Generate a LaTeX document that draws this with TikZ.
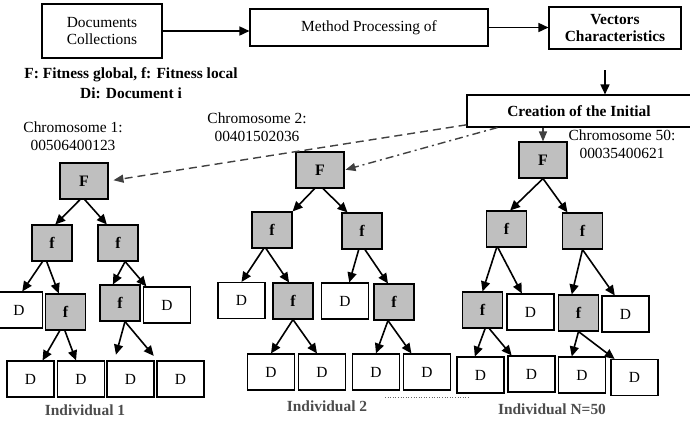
\documentclass[tikz,border=0pt]{standalone}
\usepackage{fontspec}
\setmainfont{Liberation Serif}
\usetikzlibrary{calc, positioning}
\usetikzlibrary{arrows.meta}

\begin{document}
\begin{tikzpicture}[x=1bp,y=-1bp,
    every node/.style={font=\fontsize{15.5}{18}\selectfont},
    topbox/.style={draw,line width=1.1bp,fill=white,align=center,inner sep=0pt},
    fitbox/.style={draw,line width=1.1bp,fill=boxgray,minimum height=36bp,
        inner sep=0pt,font=\fontsize{16}{18}\selectfont\bfseries},
    docbox/.style={draw,line width=1.1bp,fill=white,minimum width=47bp,
        minimum height=36bp,inner sep=0pt},
    tree/.style={line width=1.6bp,-{Triangle[length=10bp,width=9bp]}},
    link/.style={line width=1.4bp,draw=black!75,-{Triangle[length=10bp,width=8bp]}},
    tag/.style={align=center,inner sep=0pt},
    indiv/.style={text=black!70,font=\fontsize{15.5}{18}\selectfont\bfseries}]
\colorlet{boxgray}{black!25}
\useasboundingbox (0,0) rectangle (690,420);

% top chain
\node[topbox,minimum width=120bp,minimum height=54bp] (docs) at (102,31)
    {Documents\\Collections};
\node[topbox,minimum width=238bp,minimum height=37bp] (method) at (369,27.5)
    {Method Processing of};
\node[topbox,minimum width=132bp,minimum height=42bp,font=\fontsize{15.5}{18}\selectfont\bfseries]
    (vectors) at (615,28) {Vectors\\Characteristics};
\node[topbox,minimum width=224bp,minimum height=32bp,font=\fontsize{15.5}{18}\selectfont\bfseries]
    (creation) at (579,111) {Creation of the Initial};
\coordinate (vc) at (605,70);

\draw[tree] (docs.east) -- (docs.east -| method.west);
\draw[tree] (method.east) -- (method.east -| vectors.west);
\draw[tree] (vc) -- (vc |- creation.north);

% legend and chromosomes
\node[tag,font=\fontsize{15.5}{20}\selectfont\bfseries] (legend) at (131,83)
    {F: Fitness global, f: Fitness local\\Di: Document i};
\node[tag] (chromA) at (73,136) {Chromosome 1:\\00506400123};
\node[tag] (chromB) at (257,127) {Chromosome 2:\\00401502036};
\node[tag] (chromC) at (622,144) {Chromosome 50:\\00035400621};

% fitness nodes
\foreach \n/\lab/\w/\x/\y in {F1/F/48/84/181, f1a/f/40/52/243, f1b/f/40/118/243,
    f1c/f/40/65.5/312, f1d/f/40/120/303,
    F2/F/48/320/170, f2a/f/40/272/230, f2b/f/40/362/231,
    f2c/f/40/293/301, f2d/f/40/394/302,
    F50/F/48/543/160, f50a/f/40/506.5/229, f50b/f/40/582.5/231,
    f50c/f/40/482.5/310, f50d/f/40/578.5/313} {
    \node[fitbox,minimum width=\w bp] (\n) at (\x,\y) {\lab};
}

% document leaves
\foreach \n/\x/\y in {d1a/19/310, d1b/167/305, d1c/30.5/379, d1d/81/379,
    d1e/130.5/379, d1f/180.5/379,
    d2a/241.5/300.5, d2b/345/301, d2c/271/372, d2d/322/372,
    d2e/376/372, d2f/427/372,
    d50a/530.5/312, d50b/625.5/314, d50c/480.5/375, d50d/531.5/374,
    d50e/582/375, d50f/634.5/377.5} {
    \node[docbox] (\n) at (\x,\y) {D};
}

% tree arrows
\foreach \a/\b in {F1.258/f1a.80, F1.272/f1b.121,
    f1a.243/d1a.80, f1a.254/f1c.110, f1b.291/f1d.111, f1b.291/d1b.138,
    f1c.253/d1c.57, f1c.268/d1d.105,
    F2.254/f2a.north east, F2.279/f2b.128,
    f2a.246/d2a.north, f2a.252/f2c.102, f2b.260/d2b.77, f2b.279/f2d.108,
    f2c.south/d2c.north, f2c.south/d2d.105, f2d.252/d2e.north, f2d.252/d2f.130,
    F50.south/f50a.79, F50.south/f50b.129,
    f50a.242/f50c.north, f50a.245/d50a.115, f50b.south/f50d.110, f50b.south/d50b.120,
    f50c.278/d50c.107, f50c.290/d50d.137, f50d.south/d50e.119, f50d.south/d50f.137} {
    \draw[tree] (\a) -- (\b);
}
\draw[tree,shorten >=6bp] (f1d.285) -- (d1e.131);
\draw[tree,shorten >=6bp] (f1d.285) -- (d1f.141);

% population links
\draw[link,dashed,dash pattern=on 8bp off 5bp,shorten >=5bp] (creation.187) -- (F1.east);
\draw[link,dash pattern=on 8bp off 4bp on 2bp off 4bp,shorten >=1bp]
    ([xshift=31bp]creation.south west) -- (F2.east);
\draw[link] (creation.south -| F50.north) -- (F50.north);

% individual captions
\draw[black!60,line width=0.6bp,dotted] (385,397) -- (468,397);
\node[indiv] (indA) at (85,410) {Individual 1};
\node[indiv] (indB) at (327,406) {Individual 2};
\node[indiv] (indC) at (552,409) {Individual N=50};
\end{tikzpicture}
\end{document}
